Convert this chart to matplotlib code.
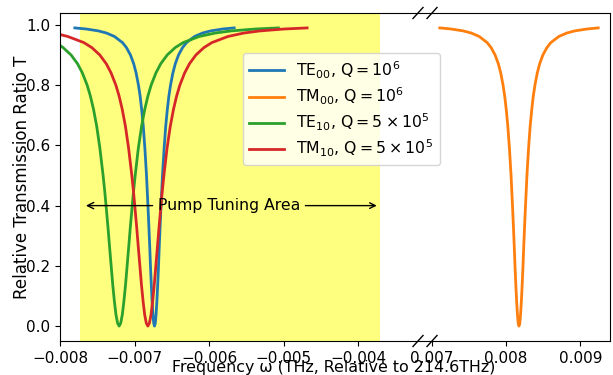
import matplotlib
matplotlib.use('Agg')
import matplotlib.pyplot as plt

# transmission dips (frequency relative to 214.6 THz)
te00_x = [-0.007801, -0.007645, -0.007484, -0.007377, -0.007270, -0.007162,
          -0.007109, -0.007055, -0.007012, -0.006980, -0.006948, -0.006926,
          -0.006905, -0.006883, -0.006862, -0.006840, -0.006830, -0.006819,
          -0.006808, -0.006797, -0.006787, -0.006776, -0.006765, -0.006754,
          -0.006744, -0.006733, -0.006722, -0.006712, -0.006701, -0.006690,
          -0.006679, -0.006669, -0.006658, -0.006647, -0.006636, -0.006626,
          -0.006604, -0.006583, -0.006561, -0.006540, -0.006518, -0.006486,
          -0.006454, -0.006411, -0.006357, -0.006304, -0.006197, -0.006089,
          -0.005982, -0.005821, -0.005665]
te00_t = [0.99, 0.9863, 0.98, 0.973, 0.9615, 0.9412, 0.9245, 0.9, 0.8711, 0.841,
          0.8, 0.7642, 0.7191, 0.6622, 0.5902, 0.5, 0.4475, 0.3902, 0.3289, 0.2647,
          0.2, 0.1379, 0.0826, 0.0385, 0.0099, 0.0,
          0.0099, 0.0385, 0.0826, 0.1379, 0.2, 0.2647, 0.3289, 0.3902, 0.4475, 0.5,
          0.5902, 0.6622, 0.7191, 0.7642, 0.8, 0.841, 0.8711, 0.9, 0.9245, 0.9412,
          0.9615, 0.973, 0.98, 0.9863, 0.99]

tm00_x = [0.007105, 0.007261, 0.007422, 0.007529, 0.007637, 0.007744,
          0.007797, 0.007851, 0.007894, 0.007926, 0.007958, 0.007980,
          0.008001, 0.008023, 0.008044, 0.008066, 0.008076, 0.008087,
          0.008098, 0.008109, 0.008119, 0.008130, 0.008141, 0.008152,
          0.008162, 0.008173, 0.008184, 0.008194, 0.008205, 0.008216,
          0.008227, 0.008237, 0.008248, 0.008259, 0.008270, 0.008280,
          0.008302, 0.008323, 0.008345, 0.008366, 0.008388, 0.008420,
          0.008452, 0.008495, 0.008549, 0.008602, 0.008710, 0.008817,
          0.008924, 0.009085, 0.009241]
tm00_t = [0.99, 0.9863, 0.98, 0.973, 0.9615, 0.9412, 0.9245, 0.9, 0.8711, 0.841,
          0.8, 0.7642, 0.7191, 0.6622, 0.5902, 0.5, 0.4475, 0.3902, 0.3289, 0.2647,
          0.2, 0.1379, 0.0826, 0.0385, 0.0099, 0.0,
          0.0099, 0.0385, 0.0826, 0.1379, 0.2, 0.2647, 0.3289, 0.3902, 0.4475, 0.5,
          0.5902, 0.6622, 0.7191, 0.7642, 0.8, 0.841, 0.8711, 0.9, 0.9245, 0.9412,
          0.9615, 0.973, 0.98, 0.9863, 0.99]

te10_x = [-0.008000, -0.007958, -0.007851, -0.007765, -0.007701, -0.007636,
          -0.007593, -0.007550, -0.007507, -0.007465, -0.007422, -0.007400,
          -0.007379, -0.007357, -0.007336, -0.007314, -0.007293, -0.007271,
          -0.007250, -0.007228, -0.007207, -0.007186, -0.007164, -0.007143,
          -0.007121, -0.007100, -0.007078, -0.007057, -0.007035, -0.007014,
          -0.006992, -0.006950, -0.006907, -0.006864, -0.006821, -0.006778,
          -0.006713, -0.006649, -0.006563, -0.006456, -0.006349, -0.006134,
          -0.005919, -0.005705, -0.005383, -0.005072]
te10_t = [0.932, 0.9245, 0.9, 0.8711, 0.841, 0.8, 0.7642, 0.7191, 0.6622, 0.5902,
          0.5, 0.4475, 0.3902, 0.3289, 0.2647, 0.2, 0.1379, 0.0826, 0.0385, 0.0099,
          0.0,
          0.0099, 0.0385, 0.0826, 0.1379, 0.2, 0.2647, 0.3289, 0.3902, 0.4475, 0.5,
          0.5902, 0.6622, 0.7191, 0.7642, 0.8, 0.841, 0.8711, 0.9, 0.9245, 0.9412,
          0.9615, 0.973, 0.98, 0.9863, 0.99]

tm10_x = [-0.008000, -0.007895, -0.007680, -0.007573, -0.007466, -0.007380,
          -0.007316, -0.007251, -0.007208, -0.007165, -0.007122, -0.007080,
          -0.007037, -0.007015, -0.006994, -0.006972, -0.006951, -0.006929,
          -0.006908, -0.006886, -0.006865, -0.006843, -0.006822, -0.006801,
          -0.006779, -0.006758, -0.006736, -0.006715, -0.006693, -0.006672,
          -0.006650, -0.006629, -0.006607, -0.006565, -0.006522, -0.006479,
          -0.006436, -0.006393, -0.006328, -0.006264, -0.006178, -0.006071,
          -0.005964, -0.005749, -0.005534, -0.005320, -0.004998, -0.004687]
tm10_t = [0.968, 0.9615, 0.9412, 0.9245, 0.9, 0.8711, 0.841, 0.8, 0.7642, 0.7191,
          0.6622, 0.5902, 0.5, 0.4475, 0.3902, 0.3289, 0.2647, 0.2, 0.1379, 0.0826,
          0.0385, 0.0099, 0.0,
          0.0099, 0.0385, 0.0826, 0.1379, 0.2, 0.2647, 0.3289, 0.3902, 0.4475, 0.5,
          0.5902, 0.6622, 0.7191, 0.7642, 0.8, 0.841, 0.8711, 0.9, 0.9245, 0.9412,
          0.9615, 0.973, 0.98, 0.9863, 0.99]

labels = [r'TE$_{00}$, Q$=10^6$', r'TM$_{00}$, Q$=10^6$',
          r'TE$_{10}$, Q$=5\times10^5$', r'TM$_{10}$, Q$=5\times10^5$']
left_lim = (-0.008, -0.0032)
right_lim = (0.007, 0.0094)
pump_area = (-0.00773, -0.00371)

W, H = 613, 375
fig = plt.figure(figsize=(W / 100, H / 100), dpi=100)
x0, x1, x2, x3 = 60, 418, 432, 610
ytop, ybot = 13, 341
fb, fh = 1 - ybot / H, (ybot - ytop) / H

# outer frame spanning both pieces
big = fig.add_axes([x0 / W, fb, (x3 - x0) / W, fh])
big.set_xticks([])
big.set_yticks([])
big.patch.set_alpha(0)
big.set_zorder(5)

ax1 = fig.add_axes([x0 / W, fb, (x1 - x0) / W, fh])
ax2 = fig.add_axes([x2 / W, fb, (x3 - x2) / W, fh])
for a in (ax1, ax2):
    for s in a.spines.values():
        s.set_visible(False)
    a.tick_params(labelsize=11)

ax1.axvspan(pump_area[0], pump_area[1], color='yellow', alpha=0.5, lw=0)
l1, = ax1.plot(te00_x, te00_t, color='C0', lw=2)
l2, = ax2.plot(tm00_x, tm00_t, color='C1', lw=2)
l3, = ax1.plot(te10_x, te10_t, color='C2', lw=2)
l4, = ax1.plot(tm10_x, tm10_t, color='C3', lw=2)

ax1.set_xlim(left_lim)
ax2.set_xlim(right_lim)
for a in (ax1, ax2):
    a.set_ylim(-0.0495, 1.0395)
ax1.set_xticks([-0.008, -0.007, -0.006, -0.005, -0.004])
ax2.set_xticks([0.007, 0.008, 0.009])
ax1.set_yticks([0.0, 0.2, 0.4, 0.6, 0.8, 1.0])
ax2.set_yticks([])

# pump tuning arrows
ax1.annotate('Pump Tuning Area', xy=(-0.00769, 0.4), xytext=(-0.00573, 0.4),
             ha='center', va='center', fontsize=11.3,
             arrowprops=dict(arrowstyle='->', color='black', lw=1))
ax1.annotate('', xy=(-0.003753, 0.4), xytext=(-0.00471, 0.4),
             arrowprops=dict(arrowstyle='->', color='black', lw=1,
                             shrinkA=0, shrinkB=0))

# break marks
for a, xe, wpx in ((ax1, 1, x1 - x0), (ax2, 0, x3 - x2)):
    dx, dy = 5 / wpx, 5.5 / (ybot - ytop)
    for ye in (0, 1):
        a.plot([xe - dx, xe + dx], [ye - dy, ye + dy], transform=a.transAxes,
               color='black', lw=1, clip_on=False, zorder=10)

fig.legend([l1, l2, l3, l4], labels, loc='upper left', fontsize=11.3,
           bbox_to_anchor=(243 / W, 1 - 53 / H), borderaxespad=0,
           labelspacing=0.3, handlelength=2.2)

fig.text(334 / W, 1 - 360 / H, 'Frequency ω (THz, Relative to 214.6THz)',
         ha='center', va='top', fontsize=11.4)
fig.text(22 / W, 1 - 177 / H, 'Relative Transmission Ratio T',
         ha='center', va='center', rotation=90, fontsize=12)

fig.savefig('out.png', dpi=100)
